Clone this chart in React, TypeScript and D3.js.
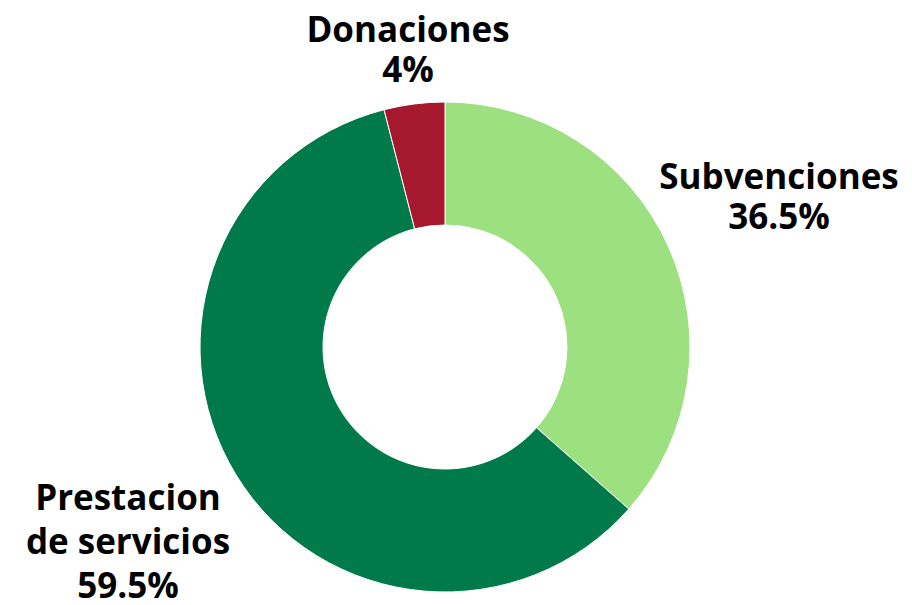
import React from "react";
import * as d3 from "d3";

const categories = ["Subvenciones", "Prestacion de servicios", "Donaciones"];
const values = [36.5, 59.5, 4];
const labelLines = [["Subvenciones", "36.5%"], ["Prestacion", "de servicios", "59.5%"], ["Donaciones", "4%"]];
const colors = ["#9de07f", "#007a4b", "#a5182d"];
const labelPos = [[779, 189], [128, 510], [408, 42]];

export default function App() {
  const W = 912, H = 605;
  const cx = 445, cy = 347, R = 245, r = 122;
  const pie = d3.pie<number>().sort(null).value((d) => d)(values);
  const arc = d3.arc<d3.PieArcDatum<number>>().innerRadius(r).outerRadius(R);
  return (
    <svg width={W} height={H} style={{ position: "absolute", left: 0, top: 0, background: "#fff" }}>
      <g transform={`translate(${cx},${cy})`}>
        {pie.map((p, i) => (
          <path key={categories[i]} d={arc(p) || ""} fill={colors[i]} stroke="#fff" strokeWidth={1} />
        ))}
      </g>
      {labelLines.map((lines, i) => (
        <text key={i} x={labelPos[i][0]} y={labelPos[i][1]} textAnchor="middle"
          fontFamily="'Open Sans', sans-serif" fontWeight={700} fontSize={35} fill="#000">
          {lines.map((l, j) => (
            <tspan key={j} x={labelPos[i][0]} dy={j === 0 ? 0 : (i === 1 ? 44 : 40)}>{l}</tspan>
          ))}
        </text>
      ))}
    </svg>
  );
}
